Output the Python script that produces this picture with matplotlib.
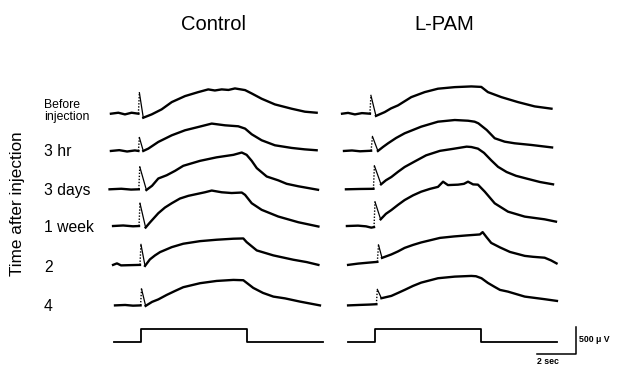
import numpy as np
import matplotlib
matplotlib.use("Agg")
import matplotlib.pyplot as plt

plt.rcParams["font.family"] = ["Liberation Sans", "DejaVu Sans"]

# ── recorded responses (time in s from record start, amplitude in µV from baseline) ──
control_before_t = [-0.03, 0.35, 0.69, 1.03, 1.38, 1.43, 1.63, 2.06, 2.57, 3.09, 3.77, 4.45, 4.96, 5.3, 5.65, 6.0, 6.33, 6.85, 7.19, 7.7, 8.38, 9.24, 9.92, 10.52]
control_before_uv = [0, 18, -13, 18, 0, 389, -74, -13, 80, 215, 326, 400, 450, 430, 450, 440, 468, 437, 375, 277, 172, 92, 37, 18]

control_3hr_t = [-0.03, 0.4, 0.8, 1.2, 1.38, 1.43, 1.63, 1.89, 2.4, 3.09, 3.77, 4.45, 5.14, 5.82, 6.5, 6.85, 7.19, 7.7, 8.38, 9.24, 9.9, 10.52]
control_3hr_uv = [0, 15, -10, 10, 0, 248, 0, 44, 167, 290, 383, 444, 507, 475, 457, 414, 309, 198, 105, 56, 30, 13]

control_3days_t = [-0.1, 0.5, 1.0, 1.4, 1.45, 1.79, 2.08, 2.4, 2.83, 3.26, 3.68, 4.54, 5.39, 6.25, 6.68, 6.93, 7.19, 7.45, 7.96, 8.55, 8.98, 9.58, 10.59]
control_3days_uv = [0, 10, -5, 0, 416, -13, 65, 200, 260, 342, 435, 527, 592, 638, 681, 638, 527, 392, 237, 166, 102, 56, -9]

control_1wk_t = [0.08, 0.6, 1.1, 1.41, 1.46, 1.75, 1.97, 2.4, 2.74, 3.09, 3.51, 3.94, 4.79, 5.14, 5.65, 6.16, 6.68, 6.85, 7.19, 7.7, 8.55, 9.58, 10.61]
control_1wk_uv = [0, 10, -5, 0, 422, -28, 65, 237, 342, 422, 509, 559, 625, 657, 625, 611, 620, 577, 422, 300, 176, 70, -9]

control_2wk_t = [0.08, 0.28, 0.49, 0.9, 1.46, 1.51, 1.72, 1.97, 2.23, 2.49, 3.09, 3.68, 4.54, 5.39, 6.25, 6.76, 6.93, 7.45, 8.3, 9.32, 10.01, 10.61]
control_2wk_uv = [0, 28, -9, -5, 0, 379, -18, 102, 176, 237, 329, 392, 440, 466, 485, 490, 422, 268, 176, 96, 52, 0]

control_4wk_t = [0.18, 0.7, 1.1, 1.49, 1.54, 1.75, 2.08, 2.4, 2.83, 3.26, 3.68, 4.54, 5.39, 6.25, 6.76, 7.27, 7.77, 8.3, 8.9, 9.67, 10.69]
control_4wk_uv = [0, 8, -5, 0, 305, -9, 65, 111, 194, 268, 337, 411, 453, 472, 466, 324, 231, 163, 130, 70, 0]

lpam_before_t = [-0.19, 0.12, 0.47, 0.83, 1.24, 1.29, 1.55, 2.0, 2.32, 2.68, 3.36, 4.05, 4.73, 5.59, 6.44, 6.95, 7.29, 7.98, 8.83, 9.69, 10.55]
lpam_before_uv = [0, 15, -13, 11, 0, 339, -41, 30, 98, 154, 307, 400, 463, 492, 505, 496, 400, 307, 215, 135, 93]

lpam_3hr_t = [-0.09, 0.32, 0.73, 1.3, 1.37, 1.65, 1.91, 2.17, 2.58, 3.02, 3.87, 4.73, 5.59, 6.27, 6.61, 6.8, 7.23, 7.64, 8.15, 8.66, 9.52, 10.58]
lpam_3hr_uv = [0, 9, -6, 4, 268, 0, 74, 142, 240, 327, 450, 542, 573, 560, 542, 512, 388, 235, 172, 142, 111, 65]

lpam_3days_t = [0.01, 0.73, 1.42, 1.47, 1.81, 2.06, 2.34, 2.68, 3.02, 3.55, 4.12, 4.83, 5.5, 6.2, 6.44, 6.78, 7.09, 7.46, 7.81, 8.25, 8.73, 9.28, 9.96, 10.63]
lpam_3days_uv = [0, 6, 9, 435, 92, 167, 228, 324, 413, 518, 629, 712, 749, 790, 783, 753, 675, 537, 416, 320, 250, 198, 135, 92]

lpam_1wk_t = [0.06, 0.63, 1.04, 1.31, 1.45, 1.5, 1.79, 2.06, 2.34, 2.68, 3.02, 3.45, 3.87, 4.32, 4.73, 4.99, 5.24, 5.76, 6.06, 6.27, 6.53, 6.78, 7.13, 7.64, 8.32, 9.18, 10.2, 10.78]
lpam_1wk_uv = [0, 7, -6, -30, -20, 448, 124, 226, 296, 392, 481, 568, 636, 688, 725, 821, 758, 766, 781, 821, 771, 766, 636, 420, 266, 174, 124, 81]

lpam_2wk_t = [0.12, 0.63, 1.14, 1.62, 1.68, 1.86, 2.34, 2.68, 3.02, 3.45, 3.87, 4.83, 5.55, 6.2, 6.88, 7.02, 7.23, 7.46, 7.91, 8.42, 9.18, 9.6, 10.2, 10.53, 10.81]
lpam_2wk_uv = [0, 24, 41, 56, 370, 130, 194, 250, 315, 370, 416, 500, 527, 546, 564, 607, 509, 407, 324, 240, 167, 150, 133, 83, 28]

lpam_4wk_t = [0.12, 0.73, 1.2, 1.57, 1.62, 1.83, 2.34, 2.68, 3.02, 3.45, 3.87, 4.73, 5.59, 6.44, 6.68, 6.96, 7.29, 7.64, 7.91, 8.32, 9.18, 10.2, 10.83]
lpam_4wk_uv = [0, 9, 15, 22, 296, 133, 176, 231, 287, 361, 422, 503, 533, 546, 540, 503, 416, 342, 287, 255, 163, 115, 83]

# stimulus (light on/off) marker
stim_t = [0.12, 1.5, 1.5, 6.95, 6.95, 10.85]
stim_level = [0, 0, 1, 1, 0, 0]

row_labels = ["Before\ninjection", "3 hr", "3 days", "1 week", "2", "4"]
panel_titles = ["Control", "L-PAM"]
scale_uv = 500
scale_sec = 2

control_traces = [
    (control_before_t, control_before_uv),
    (control_3hr_t, control_3hr_uv),
    (control_3days_t, control_3days_uv),
    (control_1wk_t, control_1wk_uv),
    (control_2wk_t, control_2wk_uv),
    (control_4wk_t, control_4wk_uv),
]
lpam_traces = [
    (lpam_before_t, lpam_before_uv),
    (lpam_3hr_t, lpam_3hr_uv),
    (lpam_3days_t, lpam_3days_uv),
    (lpam_1wk_t, lpam_1wk_uv),
    (lpam_2wk_t, lpam_2wk_uv),
    (lpam_4wk_t, lpam_4wk_uv),
]

# ── layout ──
W, H = 617, 367
PX_PER_SEC = 19.5
UV_PER_PX = 500 / 27.0
ROW_OFFSETS = [0, -690, -1400, -2080, -2800, -3550]   # µV shift of each row
STIM_OFFSET = -4237
STIM_HEIGHT = 246
Y_TOP, Y_BOT = 40, 367          # pixel rows covered by the axes
Y_ZERO = 113.7                  # pixel row of the first baseline

LW = 1.7


def make_axes(fig, t0_px, tmin, tmax):
    left = t0_px + tmin * PX_PER_SEC
    width = (tmax - tmin) * PX_PER_SEC
    ax = fig.add_axes([left / W, 1 - Y_BOT / H, width / W, (Y_BOT - Y_TOP) / H])
    ax.set_xlim(tmin, tmax)
    ax.set_ylim((Y_ZERO - Y_BOT) * UV_PER_PX, (Y_ZERO - Y_TOP) * UV_PER_PX)
    ax.axis("off")
    return ax


def draw_trace(ax, t, uv, offset):
    t = np.asarray(t, float)
    v = np.asarray(uv, float) + offset
    early = np.where(t < 2.2)[0]
    ip = early[np.argmax(np.asarray(uv)[early])]
    # the fast rising edge of the artefact prints as a dotted stroke
    ax.plot(t[:ip], v[:ip], color="black", lw=LW, solid_joinstyle="round")
    ax.plot(t[ip - 1:ip + 1], v[ip - 1:ip + 1], color="black", lw=1.0,
            linestyle=(0, (1, 1.2)))
    ax.plot(t[ip:ip + 2], v[ip:ip + 2], color="black", lw=0.9)
    ax.plot(t[ip + 1:], v[ip + 1:], color="black", lw=LW, solid_joinstyle="round")


fig = plt.figure(figsize=(W / 100, H / 100), dpi=100)

ax_c = make_axes(fig, 111.5, -0.5, 11.5)
ax_l = make_axes(fig, 345.75, -0.5, 13.5)

for ax, traces in [(ax_c, control_traces), (ax_l, lpam_traces)]:
    for (t, uv), off in zip(traces, ROW_OFFSETS):
        draw_trace(ax, t, uv, off)
    ax.plot(stim_t, STIM_OFFSET + STIM_HEIGHT * np.asarray(stim_level),
            color="black", lw=1.3)

# scale bar
bar_x = 11.79
bar_y = (Y_ZERO - 354) * UV_PER_PX
ax_l.plot([bar_x - scale_sec, bar_x, bar_x], [bar_y, bar_y, bar_y + scale_uv],
          color="black", lw=1.1, clip_on=False)
ax_l.text(bar_x + 0.18, bar_y + scale_uv * 0.55, f"{scale_uv} \u03bc V",
          fontsize=6.3, fontweight="bold", ha="left", va="center")
ax_l.text(bar_x - scale_sec * 0.72, (Y_ZERO - 366.5) * UV_PER_PX, f"{scale_sec} sec",
          fontsize=6.3, fontweight="bold", ha="center", va="bottom")

# titles and row labels
for title, xc in zip(panel_titles, [214, 444]):
    fig.text(xc / W, 1 - 25 / H, title, fontsize=14.5, ha="center", va="center")

label_rows = [111, 152, 190.7, 228, 268, 306.7]
for lbl, yr in zip(row_labels, label_rows):
    fs = 8.8 if "\n" in lbl else 11.3
    fig.text(44 / W, 1 - yr / H, lbl, fontsize=fs, ha="left", va="center",
             linespacing=1.1)

fig.text(18 / W, 1 - 204 / H, "Time after injection", fontsize=12.3,
         rotation=90, ha="center", va="center")

fig.savefig("out.png", dpi=100)
